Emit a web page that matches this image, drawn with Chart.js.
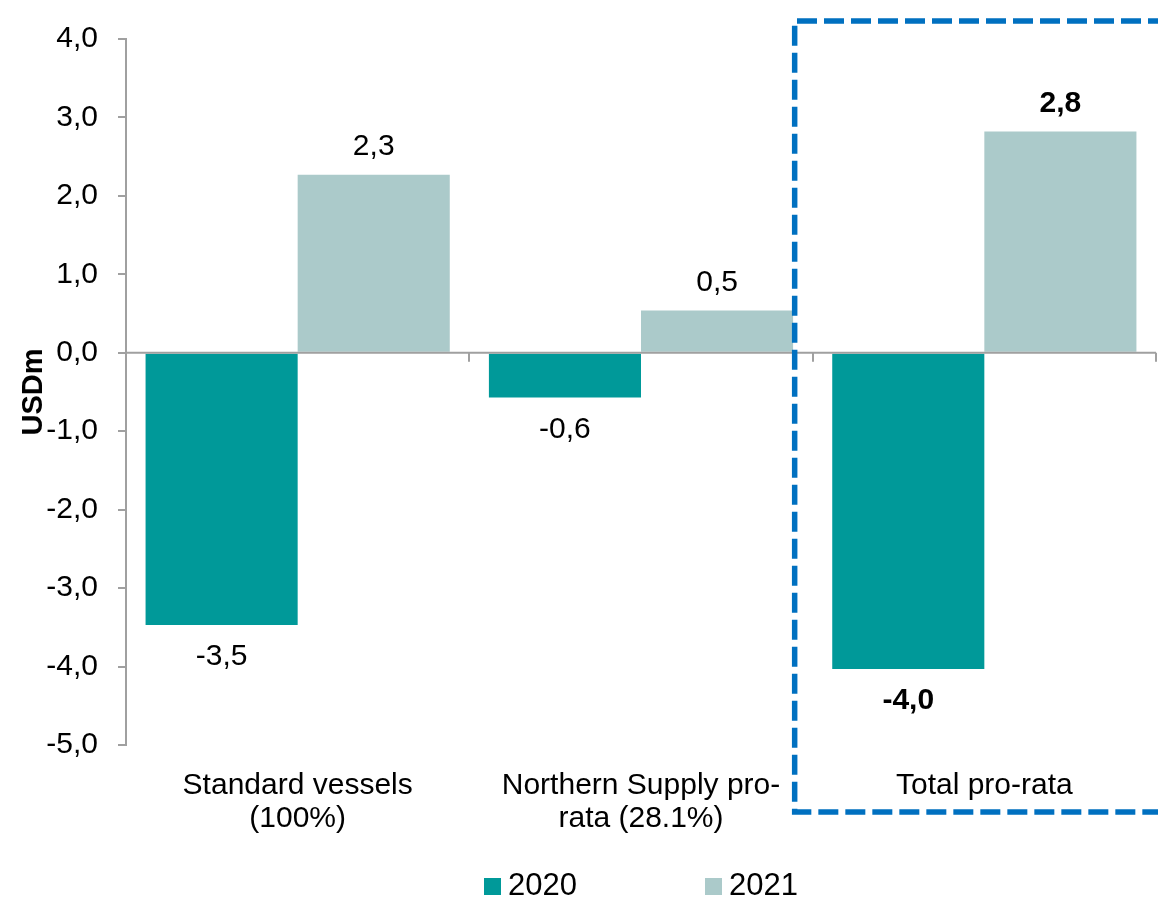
<!DOCTYPE html>
<html>
<head>
<meta charset="utf-8">
<script src="https://cdn.jsdelivr.net/npm/chart.js@4/dist/chart.umd.min.js"></script>
<style>
  html, body { margin: 0; padding: 0; background: #fff; }
  #wrap { position: relative; width: 1158px; height: 900px; }
  #legend { position: absolute; left: 126px; top: 867px; width: 1030px; display: flex; justify-content: center; font-family: "Liberation Sans", Arial, sans-serif; font-size: 31px; color: #000; }
  .item { display: flex; align-items: center; margin: 0 64px; }
  .box { width: 17px; height: 17px; margin-right: 7px; margin-top: 3px; }
</style>
</head>
<body>
<div id="wrap">
  <canvas id="c" width="1158" height="900"></canvas>
  <div id="legend"></div>
</div>
<script>
const categories = [["Standard vessels", "(100%)"], ["Northern Supply pro-", "rata (28.1%)"], ["Total pro-rata"]];
const seriesNames = ["2020", "2021"];
const values2020 = [-3.47, -0.57, -4.03];
const values2021 = [2.27, 0.54, 2.82];
const dataLabels2020 = ["-3,5", "-0,6", "-4,0"];
const dataLabels2021 = ["2,3", "0,5", "2,8"];
const boldCategory = [false, false, true];
const colors = ["#009999", "#ABCACA"];

const FONT = '"Liberation Sans", Arial, sans-serif';
const AXIS_GRAY = "#A0A0A0";

const labelPlugin = {
  id: "labels",
  afterDatasetsDraw(chart) {
    const ctx = chart.ctx;
    const y = chart.scales.y;
    const x = chart.scales.x;
    const area = chart.chartArea;
    const y0 = y.getPixelForValue(0);
    ctx.save();
    ctx.strokeStyle = AXIS_GRAY;
    ctx.lineWidth = 2;
    ctx.beginPath();
    ctx.moveTo(area.left, y0);
    ctx.lineTo(area.right, y0);
    for (let i = 0; i < categories.length; i++) {
      const px = Math.round(x.getPixelForValue(i + 0.5));
      ctx.moveTo(px, y0);
      ctx.lineTo(px, y0 + 9);
    }
    ctx.stroke();
    const sets = [dataLabels2020, dataLabels2021];
    ctx.fillStyle = "#000";
    ctx.textAlign = "center";
    ctx.textBaseline = "middle";
    chart.data.datasets.forEach((ds, di) => {
      const meta = chart.getDatasetMeta(di);
      meta.data.forEach((bar, i) => {
        const v = ds.data[i];
        ctx.font = (boldCategory[i] ? "bold " : "") + "30px " + FONT;
        const ty = v >= 0 ? bar.y - 28 : bar.y + 32;
        ctx.fillText(sets[di][i], bar.x, ty);
      });
    });
    ctx.restore();
  },
  afterDraw(chart) {
    const ctx = chart.ctx;
    const x = chart.scales.x;
    const area = chart.chartArea;
    const left = x.getPixelForValue(1.5) - 18;
    const top = area.top - 18;
    const bottom = area.bottom + 67;
    const right = chart.width + 10;
    ctx.save();
    ctx.strokeStyle = "#0070C0";
    ctx.lineWidth = 5.5;
    ctx.setLineDash([20, 7]);
    ctx.beginPath();
    ctx.moveTo(right, top);
    ctx.lineTo(left, top);
    ctx.lineTo(left, bottom);
    ctx.lineTo(right, bottom);
    ctx.stroke();
    ctx.restore();
  }
};

new Chart(document.getElementById("c"), {
  type: "bar",
  data: {
    labels: categories,
    datasets: [
      { label: seriesNames[0], data: values2020, backgroundColor: colors[0] },
      { label: seriesNames[1], data: values2021, backgroundColor: colors[1] }
    ]
  },
  options: {
    responsive: false,
    animation: false,
    layout: { padding: { top: 39, right: 2, left: 0, bottom: 0 } },
    categoryPercentage: 0.886,
    barPercentage: 1.0,
    plugins: { legend: { display: false }, tooltip: { enabled: false } },
    scales: {
      x: {
        grid: { display: false },
        border: { display: false },
        ticks: { color: "#000", font: { family: FONT, size: 30, lineHeight: 1.1 }, padding: 16, maxRotation: 0, autoSkip: false },
        afterFit(s) { s.height = 155; }
      },
      y: {
        min: -5, max: 4,
        ticks: { stepSize: 1, color: "#000", font: { family: FONT, size: 30 }, padding: 20,
          callback: v => v.toFixed(1).replace(".", ",") },
        grid: { drawOnChartArea: false, drawTicks: true, tickLength: 8, color: AXIS_GRAY, lineWidth: 2 },
        border: { display: true, color: AXIS_GRAY, width: 2 },
        title: { display: true, text: "USDm", color: "#000", font: { family: FONT, size: 29, weight: "bold" }, padding: { top: 17, bottom: 0 } },
        afterFit(s) { s.width = 126; }
      }
    }
  },
  plugins: [labelPlugin]
});

const lg = document.getElementById("legend");
seriesNames.forEach((n, i) => {
  const it = document.createElement("div");
  it.className = "item";
  const b = document.createElement("div");
  b.className = "box";
  b.style.background = colors[i];
  const t = document.createElement("span");
  t.textContent = n;
  it.appendChild(b); it.appendChild(t);
  lg.appendChild(it);
});
</script>
</body>
</html>
